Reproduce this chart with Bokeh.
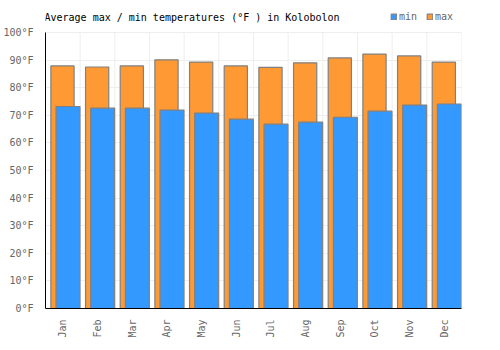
from bokeh.plotting import figure
from bokeh.models import (Range1d, FixedTicker, Legend, LegendItem, ColumnDataSource, Label)
from bokeh.transform import dodge
from bokeh.embed import file_html
from bokeh.resources import INLINE

months = ["Jan", "Feb", "Mar", "Apr", "May", "Jun", "Jul", "Aug", "Sep", "Oct", "Nov", "Dec"]
max_temp = [87.9, 87.5, 87.9, 90.1, 89.3, 87.9, 87.4, 89.0, 90.8, 92.2, 91.5, 89.3]
min_temp = [73.2, 72.6, 72.6, 71.9, 70.8, 68.6, 66.8, 67.5, 69.3, 71.5, 73.7, 74.1]
y_ticks = [0, 10, 20, 30, 40, 50, 60, 70, 80, 90, 100]
title = "Average max / min temperatures (°F ) in Kolobolon"

idx = list(range(len(months)))
src = ColumnDataSource(dict(i=idx, month=months, tmax=max_temp, tmin=min_temp))
bounds = [i - 0.5 for i in idx] + [len(months) - 0.5]

FONT = "DejaVu Sans Mono"

p = figure(width=500, height=350, output_backend="svg", toolbar_location=None,
           x_range=Range1d(-0.5, len(months) - 0.5), y_range=Range1d(0, 111.6),
           min_border_left=41, min_border_right=39, min_border_top=0, min_border_bottom=42)
p.outline_line_color = None
p.background_fill_color = "white"
p.border_fill_color = "white"

# vertical grid lines at category boundaries, up to the top tick
p.segment(x0=bounds, x1=bounds, y0=[y_ticks[0]] * len(bounds), y1=[y_ticks[-1]] * len(bounds),
          line_color="#eeeeee", line_width=1)

r_max = p.vbar(x=dodge("i", -0.01), top="tmax", width=0.67, bottom=0, source=src,
               fill_color="#FF9933", line_color="#808080", line_width=1.2)
r_min = p.vbar(x=dodge("i", 0.15), top="tmin", width=0.69, bottom=0, source=src,
               fill_color="#3399FF", line_color="#808080", line_width=1.2)

# axes
p.xaxis.ticker = FixedTicker(ticks=idx)
p.xaxis.major_label_overrides = {i: m for i, m in zip(idx, months)}
p.xaxis.major_label_orientation = 1.5708
p.yaxis.ticker = FixedTicker(ticks=y_ticks)
p.yaxis.bounds = (y_ticks[0], y_ticks[-1])
p.yaxis.major_label_overrides = {v: f"{v}°F" for v in y_ticks}
for ax in (p.xaxis, p.yaxis):
    ax.axis_line_color = "black"
    ax.axis_line_width = 1
    ax.major_tick_line_color = None
    ax.minor_tick_line_color = None
    ax.major_label_text_font = FONT
    ax.major_label_text_font_size = "10px"
    ax.major_label_text_color = "#666666"
p.yaxis.major_label_standoff = 6
p.xaxis.major_label_standoff = 5

p.xgrid.grid_line_color = None
p.ygrid.ticker = FixedTicker(ticks=y_ticks)
p.ygrid.grid_line_color = "#eeeeee"

p.add_layout(Label(x=-1, y=291, x_units="screen", y_units="screen", text=title,
                   text_font=FONT, text_font_size="10px", text_color="black",
                   text_baseline="middle", text_align="left"))

legend = Legend(items=[LegendItem(label="min", renderers=[r_min]),
                       LegendItem(label="max", renderers=[r_max])],
                orientation="horizontal", location=(345, 286),
                glyph_width=7, glyph_height=7, label_standoff=2, spacing=7,
                padding=0, margin=0, border_line_color=None, background_fill_alpha=0,
                label_text_font=FONT, label_text_font_size="10px",
                label_text_color="#666666", label_height=10)
p.add_layout(legend, "center")

open("out.html", "w").write(file_html(p, INLINE))
